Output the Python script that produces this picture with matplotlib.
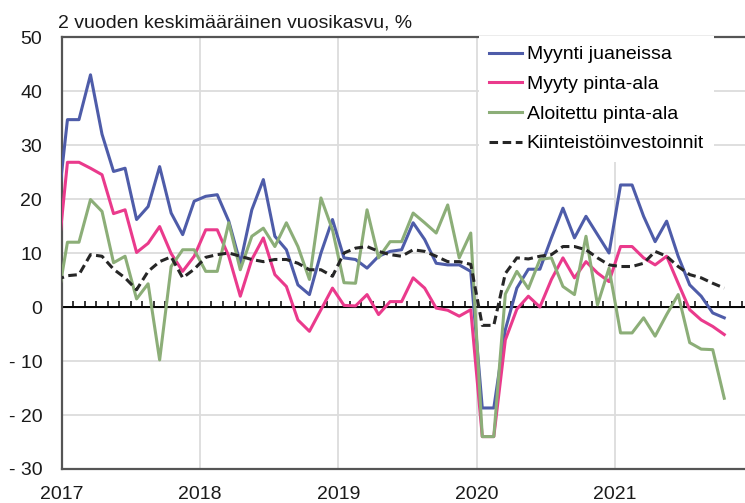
import numpy as np
import matplotlib
matplotlib.use('Agg')
import matplotlib.pyplot as plt
from matplotlib.ticker import FixedLocator, FixedFormatter, MultipleLocator

plt.rcParams['font.family'] = ['Liberation Sans', 'DejaVu Sans']

# monthly data, first value is Dec 2016 (clipped by the axis), last Oct 2021
myynti_euro = [15.3,
               34.7, 34.7, 43.0, 32.0, 25.1, 25.7, 16.2, 18.6, 26.0, 17.4, 13.4, 19.6,
               20.5, 20.8, 15.9, 8.1, 18.0, 23.6, 13.1, 10.6, 4.1, 2.3, 10.0, 16.2,
               9.1, 8.8, 7.2, 9.4, 10.3, 10.6, 15.6, 12.5, 8.1, 7.8, 7.8, 6.6,
               -18.7, -18.7, -4.2, 3.5, 7.0, 7.0, 12.8, 18.3, 12.8, 16.8, 13.4, 10.0,
               22.6, 22.6, 16.8, 12.1, 15.9, 9.4, 4.1, 2.0, -1.1, -2.0]
myyty_ala = [5.6,
             26.8, 26.8, 25.7, 24.5, 17.3, 18.0, 10.1, 11.8, 14.9, 9.9, 6.6, 9.4,
             14.3, 14.3, 9.4, 2.0, 8.8, 12.8, 6.0, 3.8, -2.4, -4.5, -0.5, 3.5,
             0.3, 0.2, 2.3, -1.4, 1.0, 1.0, 5.4, 3.5, -0.2, -0.6, -1.7, -0.5,
             -24.0, -24.0, -6.1, -0.4, 2.0, 0.0, 5.1, 9.1, 5.4, 8.4, 6.3, 4.7,
             11.2, 11.2, 9.1, 7.8, 9.4, 4.4, -0.5, -2.4, -3.6, -5.1]
aloitettu_ala = [-0.6,
                 12.0, 12.0, 19.9, 17.7, 8.2, 9.4, 1.5, 4.3, -9.8, 7.5, 10.6, 10.6,
                 6.6, 6.6, 15.6, 6.9, 13.1, 14.6, 11.2, 15.6, 11.2, 5.1, 20.2, 14.3,
                 4.5, 4.4, 18.0, 9.1, 12.1, 12.1, 17.4, 15.6, 13.7, 18.9, 9.1, 13.7,
                 -24.0, -24.0, 2.4, 6.6, 3.4, 8.8, 9.1, 3.8, 2.3, 13.1, 0.4, 7.2,
                 -4.8, -4.8, -2.0, -5.4, -1.4, 2.3, -6.6, -7.8, -7.9, -16.9]
investoinnit = [5.0,
                5.8, 6.0, 9.7, 9.4, 7.0, 5.4, 3.2, 6.6, 8.4, 9.3, 5.4, 7.0,
                9.2, 9.7, 10.0, 9.4, 8.8, 8.4, 8.8, 8.8, 8.1, 6.9, 6.9, 5.7,
                10.0, 10.9, 11.2, 10.3, 9.7, 9.4, 10.6, 10.3, 9.4, 8.4, 8.4, 7.9,
                -3.4, -3.4, 6.2, 9.1, 8.9, 9.4, 9.7, 11.2, 11.2, 10.6, 9.1, 7.8,
                7.5, 7.5, 8.1, 10.3, 9.4, 7.5, 6.0, 5.4, 4.4, 3.5]

labels = ['Myynti juaneissa', 'Myyty pinta-ala', 'Aloitettu pinta-ala', 'Kiinteistöinvestoinnit']
years = ['2017', '2018', '2019', '2020', '2021']
y_ticks = [50, 40, 30, 20, 10, 0, -10, -20, -30]
y_tick_labels = ['50', '40', '30', '20', '10', '0', '- 10', '- 20', '- 30']

# months counted from Jan 2017, points sit in the middle of each month
months = np.arange(len(myynti_euro)) - 1 + 0.5

fig = plt.figure(figsize=(7.45, 5.03), dpi=100)
ax = fig.add_axes([0.0828, 0.0676, 0.9172, 0.8588])

ax.plot(months, myynti_euro, color='#4E5CA9', lw=2.2, label=labels[0], zorder=3)
ax.plot(months, myyty_ala, color='#EA3A8C', lw=2.2, label=labels[1], zorder=3)
ax.plot(months, aloitettu_ala, color='#8CAE78', lw=2.2, label=labels[2], zorder=3)
ax.plot(months, investoinnit, color='#262626', lw=2.2, dashes=(2.8, 1.5),
        label=labels[3], zorder=4)

ax.set_xlim(0, 59.3)
ax.set_ylim(-30, 50)

# grid: years vertically, every 10 % horizontally
ax.xaxis.set_major_locator(FixedLocator([0, 12, 24, 36, 48]))
ax.xaxis.set_major_formatter(FixedFormatter(years))
ax.yaxis.set_major_locator(FixedLocator(y_ticks))
ax.yaxis.set_major_formatter(FixedFormatter(y_tick_labels))
ax.grid(True, color='#DCDCDC', lw=1.3, zorder=0)
ax.tick_params(axis='both', length=0, labelsize=14, colors='#1a1a1a')
ax.tick_params(axis='x', pad=12)
ax.tick_params(axis='y', pad=14)

for side in ['left', 'top', 'bottom']:
    ax.spines[side].set_color('#555555')
    ax.spines[side].set_linewidth(1.6)
ax.spines['right'].set_visible(False)

# zero line, with monthly ticks pointing up from a secondary axis
ax.axhline(0, color='black', lw=1.4, zorder=2.5)
zero_ax = ax.secondary_xaxis(30 / 80)
zero_ax.xaxis.set_major_locator(MultipleLocator(1))
zero_ax.xaxis.set_ticks_position('top')
zero_ax.tick_params(direction='out', length=4, width=1.1, color='black',
                    labeltop=False, labelbottom=False)

fig.text(58 / 745, 1 - 28 / 503, '2 vuoden keskimääräinen vuosikasvu, %',
         fontsize=14, va='baseline', ha='left', color='#1a1a1a')

leg = ax.legend(loc='upper left', bbox_to_anchor=(479 / 745, 1 - 36 / 503),
                bbox_transform=fig.transFigure, fontsize=14, frameon=True,
                fancybox=False, framealpha=1, edgecolor='none', facecolor='white',
                handlelength=1.7, handletextpad=0.25, labelspacing=0.62,
                borderpad=0.5, borderaxespad=0)
leg.set_zorder(5)

fig.savefig('out.png', dpi=100)
